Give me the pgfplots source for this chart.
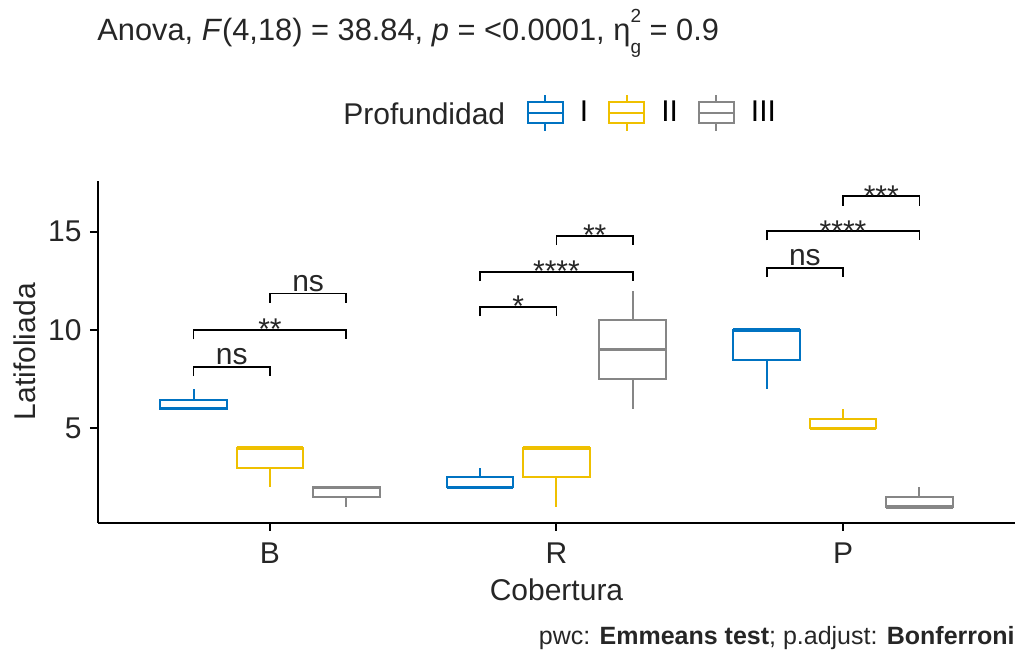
\documentclass[border=0pt]{standalone}
\usepackage{fontspec}
\setmainfont{Liberation Sans}
\usepackage{pgfplots}
\pgfplotsset{compat=1.18}
\usepgfplotslibrary{statistics}
\definecolor{jcoblue}{HTML}{0073C2}
\definecolor{jcoyellow}{HTML}{EFC000}
\definecolor{jcogray}{HTML}{868686}
\newcommand{\mainfs}{\fontsize{15}{18}\selectfont}
\tikzset{
  nslab/.style={anchor=base, inner sep=0pt, yshift=1pt, font=\mainfs, text=black!85},
  stlab/.style={anchor=base, inner sep=0pt, yshift=-4.95pt, font=\mainfs, text=black!85},
}
% boxplot: #1 position, #2 lower whisker, #3 lower quartile, #4 median, #5 upper quartile, #6 upper whisker, #7 colour
\newcommand{\bx}[7]{\addplot[draw=#7, fill=white, line width=1pt, forget plot,
  boxplot prepared={draw position=#1, lower whisker=#2, lower quartile=#3, median=#4, upper quartile=#5, upper whisker=#6}]
  coordinates {};}
% bracket: #1 x1, #2 x2, #3 y, #4 label, #5 style
\newcommand{\br}[5]{\addplot[black, line width=0.9pt, forget plot] coordinates {(#1,#3-0.47) (#1,#3) (#2,#3) (#2,#3-0.47)};
  \node[#5] at (axis cs:{(#1+#2)/2},#3) {#4};}
\pgfplotsset{legbox/.style={legend image code/.code={
  \path[draw=none] (-10.5pt,0pt) -- (26pt,0pt);
  \draw[draw=#1,line width=1pt,fill=white] (0pt,-5.25pt) rectangle (17.5pt,5.25pt);
  \draw[draw=#1,line width=1pt] (0pt,0pt) -- (17.5pt,0pt);
  \draw[draw=#1,line width=1pt] (8.75pt,5.25pt) -- (8.75pt,9pt);
  \draw[draw=#1,line width=1pt] (8.75pt,-5.25pt) -- (8.75pt,-9pt);
}}}
\begin{document}
\begin{tikzpicture}
\useasboundingbox (0pt,0pt) rectangle (509.5pt,-325pt);
\begin{axis}[
  at={(49pt,-261.25pt)}, anchor=south west,
  scale only axis, width=458.5pt, height=170.85pt,
  xmin=0.4, xmax=3.6, ymin=0.21, ymax=17.59,
  clip=false,
  axis x line*=bottom, axis y line*=left,
  axis line style={line width=1pt, black},
  xtick={1,2,3}, xticklabels={B,R,P},
  ytick={5,10,15},
  minor tick num=0,
  tick align=outside, major tick length=4pt,
  major tick style={line width=1pt, black},
  /pgf/number format/assume math mode=true,
  tick label style={font=\mainfs, text=black!85},
  xticklabel style={anchor=base, inner sep=0pt, yshift=-16.25pt},
  yticklabel style={anchor=east, inner sep=0pt, xshift=-4pt},
  xlabel={Cobertura}, ylabel={Latifoliada},
  label style={font=\mainfs, text=black!85},
  xlabel style={at={(axis description cs:0.5,-0.2268)}, anchor=base, inner sep=0pt},
  ylabel style={at={(axis description cs:-0.0687,0.5)}, anchor=base, inner sep=0pt},
  boxplot/draw direction=y,
  boxplot/box extend=0.2333,
  boxplot/whisker extend=0,
  boxplot/every median/.style={line width=1.8pt},
  legend style={at={(axis description cs:0.446,1.1985)}, anchor=west, draw=none, fill=none,
    inner sep=0pt, outer sep=0pt, legend columns=-1, column sep=0pt,
    font=\mainfs, nodes={inner sep=0pt}},
]
\addlegendimage{legbox=jcoblue}\addlegendentry{I}
\addlegendimage{legbox=jcoyellow}\addlegendentry{II}
\addlegendimage{legbox=jcogray}\addlegendentry{III}
% B
\bx{0.7333}{6}{6}{6}{6.45}{7}{jcoblue}
\bx{1.0}{2}{3}{4}{4}{4}{jcoyellow}
\bx{1.2667}{1}{1.5}{2}{2}{2}{jcogray}
% R
\bx{1.7333}{2}{2}{2}{2.5}{3}{jcoblue}
\bx{2.0}{1}{2.5}{4}{4}{4}{jcoyellow}
\bx{2.2667}{6}{7.5}{9}{10.5}{12}{jcogray}
% P
\bx{2.7333}{7}{8.5}{10}{10}{10}{jcoblue}
\bx{3.0}{5}{5}{5}{5.5}{6}{jcoyellow}
\bx{3.2667}{1}{1}{1}{1.5}{2}{jcogray}
% brackets
\br{0.7333}{1.0}{8.13}{ns}{nslab}
\br{0.7333}{1.2667}{10.0}{**}{stlab}
\br{1.0}{1.2667}{11.86}{ns}{nslab}
\br{1.7333}{2.0}{11.18}{*}{stlab}
\br{1.7333}{2.2667}{12.96}{****}{stlab}
\br{2.0}{2.2667}{14.79}{**}{stlab}
\br{2.7333}{3.0}{13.16}{ns}{nslab}
\br{2.7333}{3.2667}{15.03}{****}{stlab}
\br{3.0}{3.2667}{16.8}{***}{stlab}
\end{axis}
\node[anchor=base west, inner sep=0pt, font=\fontsize{15.4}{18}\selectfont, text=black!85] at (48.5pt,-20pt)
  {Anova, \textit{F}(4,18) = 38.84, \textit{p} = <0.0001, η\makebox[0pt][l]{\raisebox{9pt}{\fontsize{9.5}{11}\selectfont 2}}\raisebox{-6.7pt}{\fontsize{9.5}{11}\selectfont g} = 0.9};
\node[anchor=base west, inner sep=0pt, font=\mainfs, text=black!85] at (171.5pt,-62pt) {Profundidad};
\node[anchor=base east, inner sep=0pt, font=\fontsize{12.5}{15}\selectfont, text=black!85] at (507.5pt,-322pt)
  {pwc: \textbf{Emmeans test}; p.adjust: \textbf{Bonferroni}};
\end{tikzpicture}
\end{document}
